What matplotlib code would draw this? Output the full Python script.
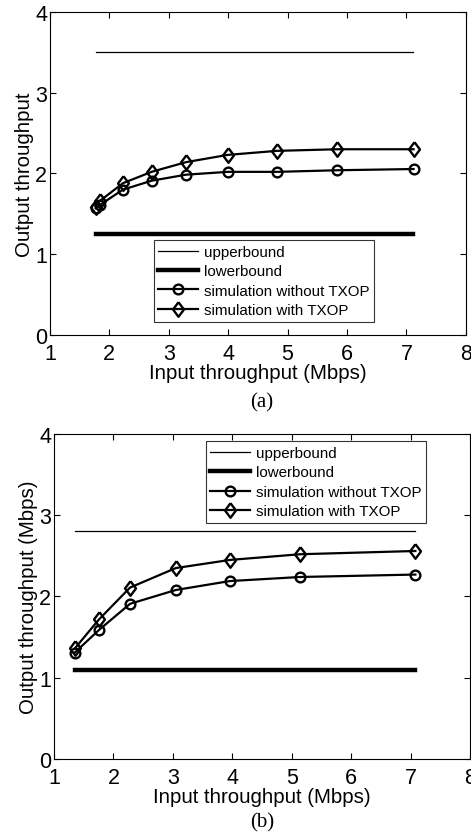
import matplotlib
matplotlib.use("Agg")
import matplotlib.pyplot as plt

plt.rcParams['font.family'] = ['Liberation Sans', 'DejaVu Sans']

# panel (a)
a_x_bound = [1.77, 7.11]
a_upper = 3.5
a_lower = 1.25
a_x = [1.77, 1.84, 2.23, 2.71, 3.29, 3.99, 4.82, 5.84, 7.12]
a_no_txop = [1.57, 1.61, 1.80, 1.91, 1.985, 2.02, 2.02, 2.04, 2.055]
a_txop = [1.59, 1.66, 1.88, 2.02, 2.14, 2.23, 2.28, 2.30, 2.30]

# panel (b)
b_x_bound = [1.35, 7.08]
b_upper = 2.8
b_lower = 1.1
b_x = [1.35, 1.76, 2.28, 3.05, 3.96, 5.14, 7.08]
b_no_txop = [1.31, 1.59, 1.91, 2.08, 2.19, 2.24, 2.27]
b_txop = [1.36, 1.72, 2.11, 2.35, 2.45, 2.52, 2.56]

labels = ['upperbound', 'lowerbound', 'simulation without TXOP', 'simulation with TXOP']
xticks = [1, 2, 3, 4, 5, 6, 7, 8]
yticks = [0, 1, 2, 3, 4]

# matlab-ish diamond, a bit taller than wide
diamond = [(0, 1), (0.75, 0), (0, -1), (-0.75, 0), (0, 1)]

fig = plt.figure(figsize=(4.71, 8.37), dpi=100)
ax1 = fig.add_axes([0.106, 0.5986, 0.883, 0.3859])
ax2 = fig.add_axes([0.1146, 0.092, 0.8834, 0.3883])


def draw(ax, xb, up, lo, x, s1, s2, ylabel, legend_anchor, legend_loc):
    ax.plot(xb, [up, up], color='black', lw=0.9, label=labels[0])
    ax.plot(xb, [lo, lo], color='black', lw=3.2, label=labels[1])
    ax.plot(x, s1, color='black', lw=1.6, marker='o', markersize=7,
            markerfacecolor='none', markeredgewidth=1.7, label=labels[2])
    ax.plot(x, s2, color='black', lw=1.6, marker=diamond, markersize=10.5,
            markerfacecolor='none', markeredgewidth=1.7, label=labels[3])
    ax.set_xlim(1, 8)
    ax.set_ylim(0, 4)
    ax.set_xticks(xticks)
    ax.set_yticks(yticks)
    ax.tick_params(direction='in', top=True, right=True, labelsize=15.5,
                   length=4)
    ax.tick_params(axis='x', pad=6)
    ax.tick_params(axis='y', pad=2)
    ax.set_xlabel('Input throughput (Mbps)', fontsize=14.7, labelpad=-1)
    ax.set_ylabel(ylabel, fontsize=14.7, labelpad=1)
    leg = ax.legend(loc=legend_loc, bbox_to_anchor=legend_anchor, fontsize=10.9,
                    frameon=True, fancybox=False, edgecolor='black',
                    borderpad=0.3, labelspacing=0.36, handlelength=2.6,
                    handletextpad=0.4, borderaxespad=0)
    leg.get_frame().set_linewidth(0.8)


draw(ax1, a_x_bound, a_upper, a_lower, a_x, a_no_txop, a_txop,
     'Output throughput', (0.514, 0.041), 'lower center')
draw(ax2, b_x_bound, b_upper, b_lower, b_x, b_no_txop, b_txop,
     'Output throughput (Mbps)', (0.894, 0.977), 'upper right')

fig.text(0.556, 0.519, '(a)', family='Liberation Serif', fontsize=15,
         ha='center', va='center')
fig.text(0.556, 0.017, '(b)', family='Liberation Serif', fontsize=15,
         ha='center', va='center')

fig.savefig('out.png', dpi=100)
